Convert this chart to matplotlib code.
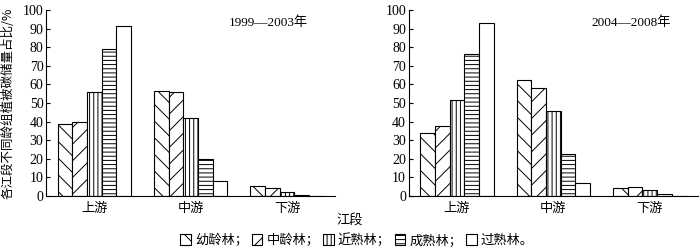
import matplotlib.pyplot as plt
import matplotlib.patches as mpatches
import numpy as np

plt.rcParams['font.family'] = ['Liberation Serif', 'Noto Sans CJK SC']
plt.rcParams['hatch.linewidth'] = 0.7

sections = ['上游', '中游', '下游']
groups = ['幼龄林', '中龄林', '近熟林', '成熟林', '过熟林']
hatches = ['\\\\', '//', '||||', '----', '']

vals_1999 = [
    [38.5, 56.5, 5.5],
    [39.5, 56.0, 4.5],
    [56.0, 42.0, 2.2],
    [79.0, 20.0, 0.7],
    [91.5, 8.0, 0.0],
]
vals_2004 = [
    [34.0, 62.5, 4.3],
    [37.5, 58.0, 5.0],
    [51.5, 45.5, 3.0],
    [76.5, 22.5, 1.0],
    [93.0, 7.0, 0.0],
]
titles = ['1999—2003年', '2004—2008年']

fig = plt.figure(figsize=(7, 2.49), dpi=100)
ax1 = fig.add_axes([0.066, 0.213, 0.413, 0.747])
ax2 = fig.add_axes([0.584, 0.213, 0.413, 0.747])

x = np.arange(len(sections))
w = 0.152
for ax, vals, title in zip([ax1, ax2], [vals_1999, vals_2004], titles):
    for i, v in enumerate(vals):
        ax.bar(x + (i - 2) * w, v, width=w, facecolor='white', edgecolor='black',
               linewidth=0.8, hatch=hatches[i])
    ax.set_xlim(-0.5, 2.5)
    ax.set_ylim(0, 100)
    ax.set_yticks(range(0, 101, 10))
    ax.set_xticks(x)
    ax.set_xticklabels(sections, fontsize=9.5)
    ax.tick_params(axis='y', direction='in', length=3, labelsize=10, pad=2)
    ax.tick_params(axis='x', length=0, pad=5)
    ax.spines['top'].set_visible(False)
    ax.spines['right'].set_visible(False)
    ax.text(0.77, 0.93, title, transform=ax.transAxes, ha='center', va='center', fontsize=9.5)

fig.text(0.012, 0.585, '各江段不同龄组植被碳储量占比/%', rotation=90, ha='center', va='center',
         fontsize=9, family=['Noto Sans CJK SC'])
fig.text(0.5, 0.115, '江段', ha='center', va='center', fontsize=9.5, family=['Noto Sans CJK SC'])

handles = [mpatches.Patch(facecolor='white', edgecolor='black', hatch=h, linewidth=0.8) for h in hatches]
labels = [g + ('；' if i < 4 else '。') for i, g in enumerate(groups)]
fig.legend(handles, labels, loc='center', bbox_to_anchor=(0.51, 0.035), ncol=5, frameon=False,
           prop={'family': 'Noto Sans CJK SC', 'size': 9.5}, handlelength=0.8, handleheight=0.8,
           handletextpad=0.3, columnspacing=0.3, borderpad=0)

fig.savefig('out.png', dpi=100)
